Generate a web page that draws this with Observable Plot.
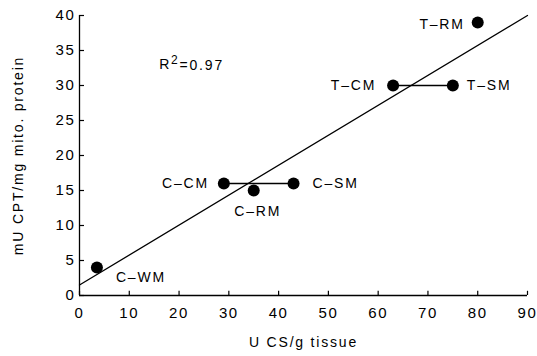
<!DOCTYPE html>
<html>
<head>
<meta charset="utf-8">
<script src="https://cdn.jsdelivr.net/npm/d3@7"></script>
<script src="https://cdn.jsdelivr.net/npm/@observablehq/plot@0.6"></script>
<style>
  html, body { margin: 0; padding: 0; background: #fff; }
  svg { font-family: "Liberation Sans", Arial, sans-serif; }
  svg text { letter-spacing: 1.8px; }
  svg g[aria-label="x-axis tick label"] text, svg g[aria-label="y-axis tick label"] text { letter-spacing: 1.6px; }
</style>
</head>
<body>
<div id="chart"></div>
<script>
// Data
const names = ["C–WM", "C–CM", "C–RM", "C–SM", "T–CM", "T–SM", "T–RM"];
const groups = ["C", "C", "C", "C", "T", "T", "T"];
const csValues = [3.5, 29, 35, 43, 63, 75, 80];     // U CS/g tissue
const cptValues = [4, 16, 15, 16, 30, 30, 39];      // mU CPT/mg mito. protein

const fitX = [0, 90];
const fitY = [1.5, 40];

const xTicks = [0, 10, 20, 30, 40, 50, 60, 70, 80, 90];
const yTicks = [0, 5, 10, 15, 20, 25, 30, 35, 40];

const r2Label = "R²=0.97";
const xLabel = "U CS/g tissue";
const yLabel = "mU CPT/mg mito. protein";

const points = names.map((n, i) => ({name: n, group: groups[i], x: csValues[i], y: cptValues[i]}));
const fit = fitX.map((x, i) => ({x, y: fitY[i]}));
const pairs = points.filter(d => d.name.endsWith("CM") || d.name.endsWith("SM"));

const only = list => d => list.includes(d.name);
const textStyle = {fontSize: 14, fill: "black"};

const chart = Plot.plot({
  width: 537,
  height: 356,
  marginLeft: 79,
  marginRight: 10,
  marginTop: 15,
  marginBottom: 61,
  style: {fontFamily: "'Liberation Sans', Arial, sans-serif", fontSize: "14px", background: "white", overflow: "visible"},
  x: {domain: [0, 90]},
  y: {domain: [0, 40]},
  marks: [
    // axis lines
    Plot.ruleY([0], {x1: 0, x2: 90, stroke: "black", strokeWidth: 1.3}),
    Plot.ruleX([0], {y1: 0, y2: 40, stroke: "black", strokeWidth: 1.3}),
    // inward ticks
    Plot.ruleX(xTicks, {x: d => d, y1: 0, y2: 0.6, stroke: "black", strokeWidth: 1.2}),
    Plot.ruleY(yTicks, {y: d => d, x1: 0, x2: 1, stroke: "black", strokeWidth: 1.2}),
    Plot.axisX(xTicks, {tickSize: 0, tickPadding: 12, fontSize: 15, label: null}),
    Plot.axisY(yTicks, {tickSize: 0, tickPadding: 4, fontSize: 15, label: null}),
    // axis titles
    Plot.text([xLabel], {frameAnchor: "bottom", dy: 51, text: d => d, textAnchor: "middle", ...textStyle}),
    Plot.text([yLabel], {frameAnchor: "left", dx: -61, rotate: -90, text: d => d, textAnchor: "middle", ...textStyle}),
    // regression line
    Plot.line(fit, {x: "x", y: "y", stroke: "black", strokeWidth: 1.3}),
    // connecting lines
    Plot.line(pairs, {x: "x", y: "y", z: "group", stroke: "black", strokeWidth: 1.3}),
    // points
    Plot.dot(points, {x: "x", y: "y", r: 6, fill: "black", stroke: "none"}),
    // labels
    Plot.text(points, {filter: only(["T–RM"]), x: "x", y: "y", text: "name", textAnchor: "end", dx: -13, dy: 2, ...textStyle}),
    Plot.text(points, {filter: only(["T–CM"]), x: "x", y: "y", text: "name", textAnchor: "end", dx: -17, ...textStyle}),
    Plot.text(points, {filter: only(["C–CM"]), x: "x", y: "y", text: "name", textAnchor: "end", dx: -15, ...textStyle}),
    Plot.text(points, {filter: only(["T–SM"]), x: "x", y: "y", text: "name", textAnchor: "start", dx: 14, ...textStyle}),
    Plot.text(points, {filter: only(["C–SM"]), x: "x", y: "y", text: "name", textAnchor: "start", dx: 19, ...textStyle}),
    Plot.text(points, {filter: only(["C–RM"]), x: "x", y: "y", text: "name", textAnchor: "middle", dx: 4, dy: 21, ...textStyle}),
    Plot.text(points, {filter: only(["C–WM"]), x: "x", y: "y", text: "name", textAnchor: "start", dx: 19, dy: 10, ...textStyle}),
    // R² annotation
    Plot.text([r2Label], {x: 16, y: 33, text: d => d, textAnchor: "start", ...textStyle})
  ]
});
document.getElementById("chart").appendChild(chart);

// Render the superscript of R² as a raised "2" like the reference
d3.select(chart).selectAll("text").filter(function() { return this.textContent === r2Label; })
  .each(function() {
    const t = d3.select(this);
    t.text(null);
    t.append("tspan").text("R");
    t.append("tspan").attr("dy", "-0.45em").attr("font-size", 12).text("2");
    t.append("tspan").attr("dy", "0.45em").text("=0.97");
  });
</script>
</body>
</html>
